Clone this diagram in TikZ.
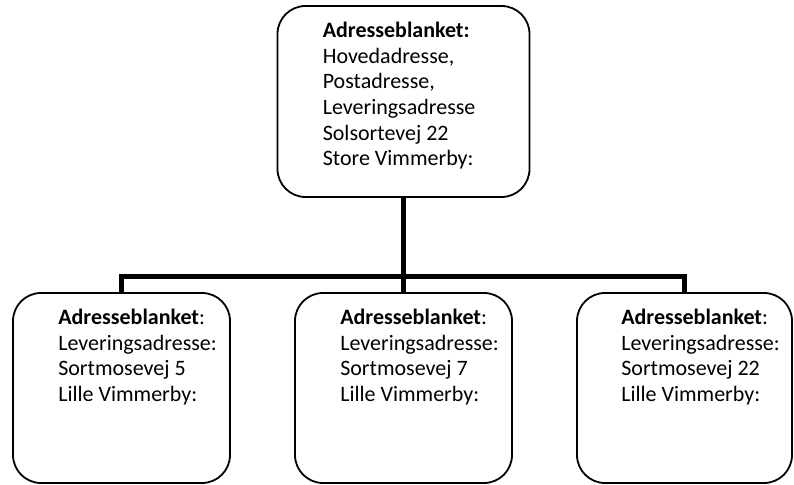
\documentclass[tikz,border=0pt]{standalone}
\usepackage{fontspec}
\setmainfont{Carlito}
\usetikzlibrary{positioning}
\tikzset{
 box/.style={draw, line width=1.8pt, rounded corners=28pt, inner sep=0pt},
 txt/.style={align=left, inner sep=0pt, font=\fontsize{22}{25.6}\selectfont},
 conn/.style={line width=5pt}
}

\begin{document}
\begin{tikzpicture}[x=1pt,y=1pt]
 \useasboundingbox (0,0) rectangle (794,484);
 % boxes
 \node[box, minimum width=252pt, minimum height=191pt] (top) at (403.5,382.5) {};
 \node[box, minimum width=217pt, minimum height=190pt] (left) at (121.5,96) {};
 \node[box, minimum width=217pt, minimum height=190pt] (mid) at (403.5,96) {};
 \node[box, minimum width=215pt, minimum height=190pt] (right) at (684.5,96) {};
 % texts
 \node[txt, below right=17pt and 46pt of top.north west] (toptext)
  {\textbf{Adresseblanket:}\\Hovedadresse,\\Postadresse,\\Leveringsadresse\\Solsortevej 22\\Store Vimmerby:};
 \node[txt, below right=17pt and 46pt of left.north west] (lefttext)
  {\textbf{Adresseblanket}:\\Leveringsadresse:\\Sortmosevej 5\\Lille Vimmerby:};
 \node[txt, below right=17pt and 46pt of mid.north west] (midtext)
  {\textbf{Adresseblanket}:\\Leveringsadresse:\\Sortmosevej 7\\Lille Vimmerby:};
 \node[txt, below right=17pt and 45pt of right.north west] (righttext)
  {\textbf{Adresseblanket}:\\Leveringsadresse:\\Sortmosevej 22\\Lille Vimmerby:};
 % connectors
 \coordinate (hub) at (403.5,207);
 \draw[conn] (top.south) -- (hub);
 \draw[conn] (hub) -| (left.north);
 \draw[conn] (hub) -| (right.north);
 \draw[conn] (hub) -- (mid.north);
\end{tikzpicture}
\end{document}
